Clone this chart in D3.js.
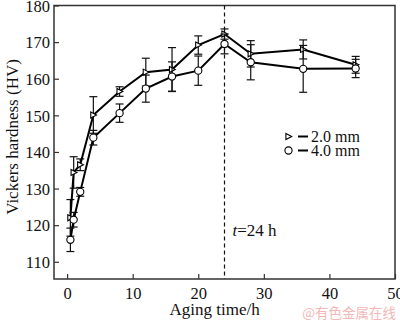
<!DOCTYPE html>
<html>
<head>
<meta charset="utf-8">
<script src="https://cdn.jsdelivr.net/npm/d3@7"></script>
<style>
  html, body { margin: 0; padding: 0; background: #fff; }
  svg { display: block; }
</style>
</head>
<body>
<svg id="chart" width="400" height="322"></svg>
<script>
// Aging time (h) and Vickers hardness for the two sheet thicknesses
const agingTime = [0.5, 1, 2, 4, 8, 12, 16, 20, 24, 28, 36, 44];
const hv20 = [122.0, 134.4, 136.5, 150.1, 156.5, 161.8, 162.5, 169.2, 172.2, 166.8, 168.0, 163.8];
const err20 = [5.0, 4.3, 1.6, 5.0, 1.3, 3.8, 6.0, 2.5, 1.4, 3.6, 2.6, 2.3];
const hv40 = [116.0, 121.5, 129.1, 143.9, 150.6, 157.3, 160.6, 162.2, 169.5, 164.5, 162.7, 162.8];
const err40 = [3.2, 2.0, 1.2, 2.0, 2.5, 3.7, 4.0, 4.0, 2.7, 4.8, 6.4, 2.5];
const xTicks = [0, 10, 20, 30, 40, 50];
const yTicks = [110, 120, 130, 140, 150, 160, 170, 180];
const peakTime = 24;
const seriesNames = ["2.0 mm", "4.0 mm"];

const svg = d3.select("#chart");
const plot = { left: 54, right: 395, top: 5.5, bottom: 279 };

const x = d3.scaleLinear().domain([-2, 50]).range([plot.left, plot.right]);
const y = d3.scaleLinear().domain([105.3, 180]).range([plot.bottom, plot.top]);

const serif = "'Liberation Serif', 'Times New Roman', serif";

// Watermark
svg.append("text")
  .attr("x", 396).attr("y", 318)
  .attr("text-anchor", "end")
  .attr("font-family", "'Noto Sans CJK SC', sans-serif")
  .attr("font-size", 13.5)
  .attr("fill", "#f2b8b8")
  .text("@有色金属在线");

// Axes with inward ticks
const gx = svg.append("g").attr("transform", `translate(0,${plot.bottom})`)
  .call(d3.axisBottom(x).tickValues(xTicks).tickSizeInner(-5).tickSizeOuter(0).tickPadding(8));
const gy = svg.append("g").attr("transform", `translate(${plot.left},0)`)
  .call(d3.axisLeft(y).tickValues(yTicks).tickSizeInner(-5).tickSizeOuter(0).tickPadding(4));
[gx, gy].forEach(g => {
  g.select(".domain").remove();
  g.selectAll(".tick line").attr("stroke", "#333").attr("stroke-width", 1.2);
  g.selectAll(".tick text").attr("font-family", serif).attr("font-size", 16.5).attr("fill", "#111");
});
gy.selectAll(".tick text").attr("dy", "0.35em");

// Frame
svg.append("rect")
  .attr("x", plot.left).attr("y", plot.top)
  .attr("width", plot.right - plot.left).attr("height", plot.bottom - plot.top)
  .attr("fill", "none").attr("stroke", "#333").attr("stroke-width", 1.5);

// Peak-aging marker line
svg.append("line")
  .attr("x1", x(peakTime)).attr("x2", x(peakTime))
  .attr("y1", plot.top).attr("y2", plot.bottom)
  .attr("stroke", "#111").attr("stroke-width", 1.2)
  .attr("stroke-dasharray", "4,3");

const peakLabel = svg.append("text")
  .attr("x", x(peakTime) + 8).attr("y", 236)
  .attr("font-family", serif).attr("font-size", 17).attr("fill", "#111");
peakLabel.append("tspan").attr("font-style", "italic").text("t");
peakLabel.append("tspan").text("=24 h");

// Series
const series = [
  { name: seriesNames[0], vals: hv20, errs: err20, marker: "tri" },
  { name: seriesNames[1], vals: hv40, errs: err40, marker: "circ" }
];

const line = d3.line().x(d => x(d.t)).y(d => y(d.v));
const cap = 4;

function drawMarker(g, kind, cx, cy) {
  if (kind === "circ") {
    g.append("circle").attr("cx", cx).attr("cy", cy).attr("r", 3.6)
      .attr("fill", "#fff").attr("stroke", "#000").attr("stroke-width", 1.1);
  } else {
    g.append("path")
      .attr("d", `M${cx - 2.6},${cy - 3} L${cx + 3.2},${cy} L${cx - 2.6},${cy + 3} Z`)
      .attr("fill", "#fff").attr("stroke", "#000").attr("stroke-width", 1.1);
  }
}

series.forEach(s => {
  const pts = agingTime.map((t, i) => ({ t, v: s.vals[i], e: s.errs[i] }));
  const g = svg.append("g");
  // error bars
  pts.forEach(p => {
    const cx = x(p.t), y1 = y(p.v + p.e), y2 = y(p.v - p.e);
    g.append("line").attr("x1", cx).attr("x2", cx).attr("y1", y1).attr("y2", y2)
      .attr("stroke", "#111").attr("stroke-width", 1.2);
    [y1, y2].forEach(yy => g.append("line")
      .attr("x1", cx - cap).attr("x2", cx + cap).attr("y1", yy).attr("y2", yy)
      .attr("stroke", "#111").attr("stroke-width", 1.2));
  });
  g.append("path").datum(pts).attr("d", line)
    .attr("fill", "none").attr("stroke", "#000").attr("stroke-width", 2);
  pts.forEach(p => drawMarker(g, s.marker, x(p.t), y(p.v)));
});

// Legend
const legend = svg.append("g");
series.forEach((s, i) => {
  const ly = 136.5 + i * 14;
  drawMarker(legend, s.marker, 288.5, ly);
  legend.append("line").attr("x1", 298).attr("x2", 308).attr("y1", ly).attr("y2", ly)
    .attr("stroke", "#000").attr("stroke-width", 2);
  legend.append("text").attr("x", 311).attr("y", ly + 5.5)
    .attr("font-family", serif).attr("font-size", 16).attr("fill", "#111")
    .text(s.name);
});

// Axis titles
svg.append("text")
  .attr("x", x(22.5)).attr("y", 315)
  .attr("text-anchor", "middle")
  .attr("font-family", serif).attr("font-size", 17).attr("fill", "#111")
  .text("Aging time/h");

svg.append("text")
  .attr("transform", `translate(18,137) rotate(-90)`)
  .attr("text-anchor", "middle")
  .attr("font-family", serif).attr("font-size", 17).attr("fill", "#111")
  .text("Vickers hardness (HV)");
</script>
</body>
</html>
